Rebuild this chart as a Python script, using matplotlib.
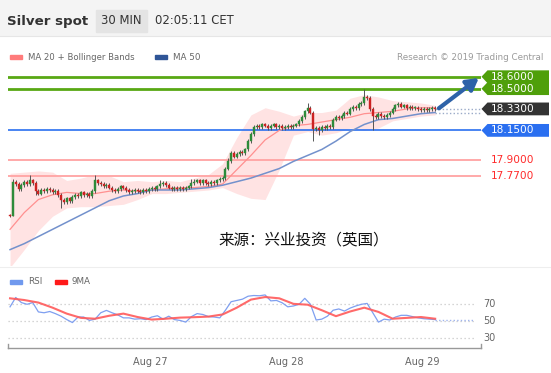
import matplotlib
matplotlib.use("Agg")
import matplotlib.pyplot as plt
import matplotlib.transforms as mtransforms
from matplotlib.patches import Polygon, Rectangle
from matplotlib.lines import Line2D

# ---------------- data ----------------
title = "Silver spot"
timeframe = "30 MIN"
clock = "02:05:11 CET"
source_note = "来源：兴业投资（英国）"
credit = "Research © 2019 Trading Central"

first_open = 17.44
closes = [
    17.43, 17.72, 17.70, 17.66, 17.69, 17.72, 17.70, 17.73, 17.71, 17.64,
    17.62, 17.65, 17.64, 17.66, 17.65, 17.63, 17.64, 17.61, 17.57, 17.55,
    17.58, 17.56, 17.59, 17.61, 17.60, 17.63, 17.61, 17.62, 17.60, 17.64,
    17.73, 17.71, 17.70, 17.68, 17.69, 17.67, 17.65, 17.64, 17.66, 17.68,
    17.67, 17.65, 17.63, 17.64, 17.65, 17.64, 17.63, 17.65, 17.64, 17.66,
    17.67, 17.66, 17.68, 17.70, 17.71, 17.69, 17.67, 17.66, 17.67, 17.66,
    17.67, 17.66, 17.67, 17.68, 17.71, 17.72, 17.73, 17.71, 17.73, 17.71,
    17.70, 17.72, 17.71, 17.73, 17.74, 17.75, 17.83, 17.89, 17.96, 17.93,
    17.95, 17.97, 17.96, 17.99, 18.06, 18.12, 18.18, 18.19, 18.18, 18.20,
    18.19, 18.17, 18.19, 18.20, 18.18, 18.19, 18.17, 18.18, 18.19, 18.18,
    18.19, 18.20, 18.23, 18.26, 18.31, 18.34, 18.30, 18.16, 18.17, 18.15,
    18.18, 18.17, 18.19, 18.18, 18.24, 18.26, 18.25, 18.27, 18.30, 18.29,
    18.33, 18.35, 18.34, 18.37, 18.38, 18.43, 18.42, 18.33, 18.27, 18.26,
    18.29, 18.27, 18.26, 18.28, 18.30, 18.33, 18.36, 18.37, 18.35, 18.36,
    18.34, 18.35, 18.34, 18.34, 18.33, 18.32, 18.33, 18.32, 18.33, 18.34,
    18.33,
]
wick_up = [
    0.01, 0.02, 0.015, 0.015, 0.015, 0.015, 0.015, 0.05, 0.015, 0.015,
    0.015, 0.015, 0.015, 0.015, 0.015, 0.015, 0.015, 0.015, 0.015, 0.015,
    0.015, 0.015, 0.015, 0.015, 0.015, 0.015, 0.015, 0.015, 0.015, 0.015,
    0.05, 0.015, 0.015, 0.015, 0.015, 0.015, 0.015, 0.015, 0.015, 0.015,
    0.015, 0.015, 0.015, 0.015, 0.015, 0.015, 0.015, 0.015, 0.015, 0.015,
    0.015, 0.015, 0.015, 0.03, 0.015, 0.015, 0.015, 0.015, 0.015, 0.015,
    0.015, 0.015, 0.015, 0.015, 0.03, 0.02, 0.015, 0.015, 0.015, 0.015,
    0.015, 0.015, 0.015, 0.015, 0.015, 0.015, 0.015, 0.03, 0.015, 0.015,
    0.015, 0.015, 0.015, 0.015, 0.02, 0.015, 0.015, 0.015, 0.015, 0.015,
    0.015, 0.015, 0.015, 0.015, 0.015, 0.015, 0.015, 0.015, 0.015, 0.015,
    0.015, 0.015, 0.015, 0.015, 0.015, 0.04, 0.015, 0.015, 0.015, 0.015,
    0.015, 0.015, 0.015, 0.015, 0.015, 0.015, 0.015, 0.015, 0.015, 0.015,
    0.015, 0.015, 0.015, 0.015, 0.015, 0.07, 0.015, 0.015, 0.015, 0.015,
    0.015, 0.015, 0.015, 0.015, 0.015, 0.015, 0.015, 0.015, 0.015, 0.015,
    0.015, 0.015, 0.015, 0.015, 0.015, 0.015, 0.015, 0.015, 0.015, 0.015,
    0.015,
]
wick_dn = [
    0.01, 0.0, 0.015, 0.015, 0.015, 0.015, 0.015, 0.015, 0.015, 0.03,
    0.015, 0.015, 0.015, 0.015, 0.015, 0.015, 0.015, 0.015, 0.07, 0.015,
    0.015, 0.015, 0.015, 0.015, 0.015, 0.015, 0.015, 0.015, 0.015, 0.015,
    0.015, 0.015, 0.015, 0.015, 0.015, 0.015, 0.015, 0.015, 0.015, 0.015,
    0.015, 0.015, 0.015, 0.015, 0.015, 0.015, 0.015, 0.015, 0.015, 0.015,
    0.015, 0.015, 0.015, 0.015, 0.015, 0.015, 0.015, 0.015, 0.015, 0.015,
    0.015, 0.015, 0.02, 0.015, 0.015, 0.015, 0.015, 0.015, 0.015, 0.015,
    0.015, 0.015, 0.015, 0.015, 0.015, 0.015, 0.015, 0.015, 0.015, 0.015,
    0.015, 0.015, 0.015, 0.015, 0.015, 0.015, 0.015, 0.015, 0.015, 0.015,
    0.015, 0.015, 0.015, 0.015, 0.015, 0.015, 0.015, 0.015, 0.015, 0.015,
    0.015, 0.015, 0.015, 0.015, 0.015, 0.015, 0.015, 0.10, 0.015, 0.04,
    0.015, 0.015, 0.015, 0.015, 0.015, 0.015, 0.015, 0.015, 0.015, 0.015,
    0.015, 0.015, 0.015, 0.015, 0.015, 0.015, 0.015, 0.015, 0.12, 0.015,
    0.015, 0.015, 0.015, 0.015, 0.015, 0.015, 0.015, 0.015, 0.015, 0.015,
    0.015, 0.015, 0.015, 0.015, 0.015, 0.015, 0.015, 0.015, 0.015, 0.015,
    0.015,
]

# indicators sampled every 5 candles
ma20 = [17.32, 17.46, 17.57, 17.61, 17.63, 17.62, 17.62, 17.64, 17.65, 17.64,
        17.65, 17.66, 17.67, 17.67, 17.68, 17.70, 17.82, 17.94, 18.07, 18.15,
        18.19, 18.20, 18.22, 18.24, 18.26, 18.29, 18.30, 18.31, 18.33, 18.34,
        18.34]
bb_upper = [17.79, 17.80, 17.81, 17.80, 17.73, 17.75, 17.78, 17.77, 17.72, 17.73,
            17.72, 17.73, 17.72, 17.75, 17.78, 17.87, 18.09, 18.28, 18.34, 18.31,
            18.27, 18.30, 18.30, 18.32, 18.42, 18.45, 18.43, 18.40, 18.39, 18.38,
            18.36]
bb_lower = [17.00, 17.15, 17.31, 17.43, 17.50, 17.51, 17.51, 17.52, 17.53, 17.57,
            17.62, 17.62, 17.63, 17.64, 17.65, 17.67, 17.62, 17.58, 17.57, 17.82,
            18.11, 18.14, 18.11, 18.13, 18.17, 18.15, 18.17, 18.23, 18.25, 18.27,
            18.28]
ma50 = [17.15, 17.20, 17.26, 17.32, 17.38, 17.44, 17.50, 17.56, 17.60, 17.62,
        17.65, 17.65, 17.65, 17.66, 17.67, 17.69, 17.72, 17.75, 17.79, 17.83,
        17.89, 17.94, 17.99, 18.06, 18.14, 18.20, 18.24, 18.25, 18.27, 18.29,
        18.30]

# RSI sampled every 2 candles, its 9MA every 5 candles
rsi = [67, 78, 72, 70, 72, 61, 60, 61.5, 59, 56,
       52, 48.5, 55, 55, 51, 52.5, 60, 62.8, 60, 57.5,
       54, 54, 52.5, 53, 52, 55, 56.5, 52.5, 56, 52,
       51, 49, 55.5, 59, 58, 55.5, 55, 54, 63, 73,
       74.5, 76, 79.5, 80.3, 80, 81, 74, 74.5, 71.8, 67,
       68, 70, 77, 70, 51.5, 52.5, 56, 63, 64.5, 62,
       65.5, 68, 70, 71, 60, 49, 52.5, 51.5, 55, 57,
       57, 55.5, 54, 53, 52.5, 52]
rsi_ma = [77, 75, 72, 66, 59, 54, 53, 56.5, 59, 55,
          52, 53, 54.3, 54.8, 55.5, 58, 66, 75.5, 78.5, 77,
          70.5, 69.5, 63, 56, 61.5, 66, 61, 53, 54, 55,
          53]
rsi_levels = [70, 50, 30]

day_ticks = [49.5, 97.5, 145.5]
day_labels = ["Aug 27", "Aug 28", "Aug 29"]

targets = [18.60, 18.50]
last_price = 18.33
support_main = 18.15
supports_minor = [17.90, 17.77]

# ---------------- figure ----------------
W, H = 551, 373
fig = plt.figure(figsize=(W / 100, H / 100), dpi=100)
fig.patch.set_facecolor("white")


def ax_rect(x0, y0, x1, y1):
    return [x0 / W, 1 - y1 / H, (x1 - x0) / W, (y1 - y0) / H]


def fx(x):
    return x / W


def fy(y):
    return 1 - y / H


# header band
fig.add_artist(Rectangle((0, fy(35)), 1, 35 / H, transform=fig.transFigure,
                         color="#f4f4f4", zorder=0))
fig.add_artist(Line2D([0, 1], [fy(35.5)] * 2, transform=fig.transFigure,
                      color="#e6e6e6", lw=0.8))
fig.text(fx(7), fy(21), title, fontsize=9.6, fontweight="bold", color="#333333",
         va="center", ha="left")
fig.add_artist(Rectangle((fx(96), fy(32)), 51 / W, 22 / H, transform=fig.transFigure,
                         color="#e4e4e4", zorder=1))
fig.text(fx(121.5), fy(21), timeframe, fontsize=8.4, color="#333333",
         va="center", ha="center", zorder=2)
fig.text(fx(155), fy(21), clock, fontsize=8.4, color="#333333", va="center", ha="left")

# legend row
fig.add_artist(Rectangle((fx(10), fy(59)), 12 / W, 4 / H, transform=fig.transFigure,
                         color="#ff7b7b"))
fig.text(fx(28), fy(57), "MA 20 + Bollinger Bands", fontsize=6.1, color="#666666",
         va="center", ha="left")
fig.add_artist(Rectangle((fx(155), fy(59)), 12 / W, 4 / H, transform=fig.transFigure,
                         color="#2f5597"))
fig.text(fx(173), fy(57), "MA 50", fontsize=6.3, color="#666666", va="center", ha="left")
fig.text(fx(543), fy(57), credit, fontsize=6.3, color="#9a9a9a", va="center", ha="right")

# separator between panels
fig.add_artist(Line2D([0, 1], [fy(267)] * 2, transform=fig.transFigure,
                      color="#eeeeee", lw=0.8))

# ---------------- main price panel ----------------
XL = (-0.9, 166)
ax = fig.add_axes(ax_rect(7.5, 66, 480.5, 265))
ax.set_xlim(*XL)
ax.set_ylim(17.021, 18.69)
ax.axis("off")

n = len(closes)
idx = list(range(n))
ind_idx = list(range(0, n, 5))
opens = [first_open] + closes[:-1]
highs = [max(o, c) + u for o, c, u in zip(opens, closes, wick_up)]
lows = [min(o, c) - d for o, c, d in zip(opens, closes, wick_dn)]

ax.fill_between(ind_idx, bb_lower, bb_upper, color="#ffdada", alpha=0.75, lw=0, zorder=1)
ax.plot(ind_idx, ma20, color="#ff9090", lw=0.9, zorder=2)
ax.plot(ind_idx, ma50, color="#7391cc", lw=1.1, zorder=2)

# levels
for t in targets:
    ax.axhline(t, color="#58a814", lw=2.0, zorder=1.5)
ax.axhline(support_main, color="#2a6ff0", lw=1.2, zorder=1.5)
for s in supports_minor:
    ax.axhline(s, color="#ffa3a3", lw=1.3, zorder=1.5)

# candles
cols = ["#2e8b3a" if c >= o else "#cc2222" for o, c in zip(opens, closes)]
bottoms = [min(o, c) for o, c in zip(opens, closes)]
heights = [max(abs(c - o), 0.004) for o, c in zip(opens, closes)]
ax.vlines(idx, lows, highs, color="#555555", lw=0.7, zorder=3)
ax.bar(idx, heights, bottom=bottoms, width=0.7, color=cols, edgecolor=cols, lw=0.3, zorder=4)

# dotted extensions
ax.plot([n - 1, XL[1]], [closes[-1]] * 2, color="#9aaac8", lw=1.0, ls=(0, (1, 1.6)), zorder=2)
ax.plot([n - 1, XL[1]], [ma50[-1]] * 2, color="#9aaac8", lw=1.0, ls=(0, (1, 1.6)), zorder=2)

# forecast arrow
ax.annotate("", xy=(XL[1] - 0.6, targets[0] - 0.01), xytext=(n + 0.3, closes[-1] + 0.005),
            arrowprops=dict(arrowstyle="-|>,head_length=0.7,head_width=0.4",
                            color="#2d62a8", lw=3.0, shrinkA=0, shrinkB=0,
                            mutation_scale=10), zorder=6, annotation_clip=False)

# right-side price tags
trans = mtransforms.blended_transform_factory(fig.transFigure, ax.transData)
hh = 6.4 / 119.3


def tag(y, text, color):
    poly = Polygon([(fx(481.5), y), (fx(487.5), y + hh), (fx(549), y + hh),
                    (fx(549), y - hh), (fx(487.5), y - hh)], closed=True,
                   transform=trans, fc=color, ec="none", clip_on=False, zorder=5)
    fig.add_artist(poly)
    fig.text(fx(491), y, text, transform=trans, fontsize=7.6, color="white",
             va="center", ha="left", zorder=6)


for t in targets:
    tag(t, f"{t:.4f}", "#4f9f0a")
tag(last_price, f"{last_price:.4f}", "#333333")
tag(support_main, f"{support_main:.4f}", "#2a6ff0")
for s in supports_minor:
    fig.text(fx(491), s, f"{s:.4f}", transform=trans, fontsize=7.6, color="#ff2a2a",
             va="center", ha="left")

fig.text(fx(218), fy(240), source_note, fontsize=11.2, color="#111111",
         family=["Noto Sans CJK SC", "DejaVu Sans"], va="center", ha="left")

# ---------------- RSI panel ----------------
fig.add_artist(Rectangle((fx(10), fy(284)), 12 / W, 4 / H, transform=fig.transFigure,
                         color="#7099ee"))
fig.text(fx(28), fy(282), "RSI", fontsize=6.3, color="#666666", va="center", ha="left")
fig.add_artist(Rectangle((fx(55), fy(284)), 12 / W, 4 / H, transform=fig.transFigure,
                         color="#ff1a1a"))
fig.text(fx(72), fy(282), "9MA", fontsize=6.3, color="#666666", va="center", ha="left")

axr = fig.add_axes(ax_rect(7.5, 286, 480.5, 348.3))
axr.set_xlim(*XL)
axr.set_ylim(18.2, 91.5)
axr.set_facecolor("none")
for side in ("top", "left", "right"):
    axr.spines[side].set_visible(False)
axr.spines["bottom"].set_color("#999999")
axr.spines["bottom"].set_linewidth(1.0)
axr.set_yticks([])
axr.set_xticks(day_ticks)
axr.set_xticklabels(day_labels)
axr.tick_params(axis="x", length=0, pad=6, labelsize=7, labelcolor="#666666")
for xe in (0, 1):
    axr.plot([xe, xe], [0, 0.07], transform=axr.transAxes, color="#999999", lw=1.0,
             clip_on=False)

rtrans = mtransforms.blended_transform_factory(fig.transFigure, axr.transData)
for v in rsi_levels:
    axr.axhline(v, xmin=0, xmax=0.986, color="#c8c8c8", lw=0.9, ls=(0, (1, 2.2)))
    fig.text(fx(489), v, str(v), transform=rtrans, fontsize=7, color="#666666",
             va="center", ha="center")

rsi_idx = list(range(0, n, 2))
axr.plot(rsi_idx, rsi, color="#7f9ff0", lw=0.9, zorder=3)
axr.plot(ind_idx, rsi_ma, color="#ff5a5a", lw=1.5, alpha=0.9, zorder=4)
axr.plot([n - 1, 163.7], [rsi[-1]] * 2, color="#9fb4ee", lw=1.0, ls=(0, (1, 1.6)))

fig.savefig("out.png", dpi=100, facecolor="white")
